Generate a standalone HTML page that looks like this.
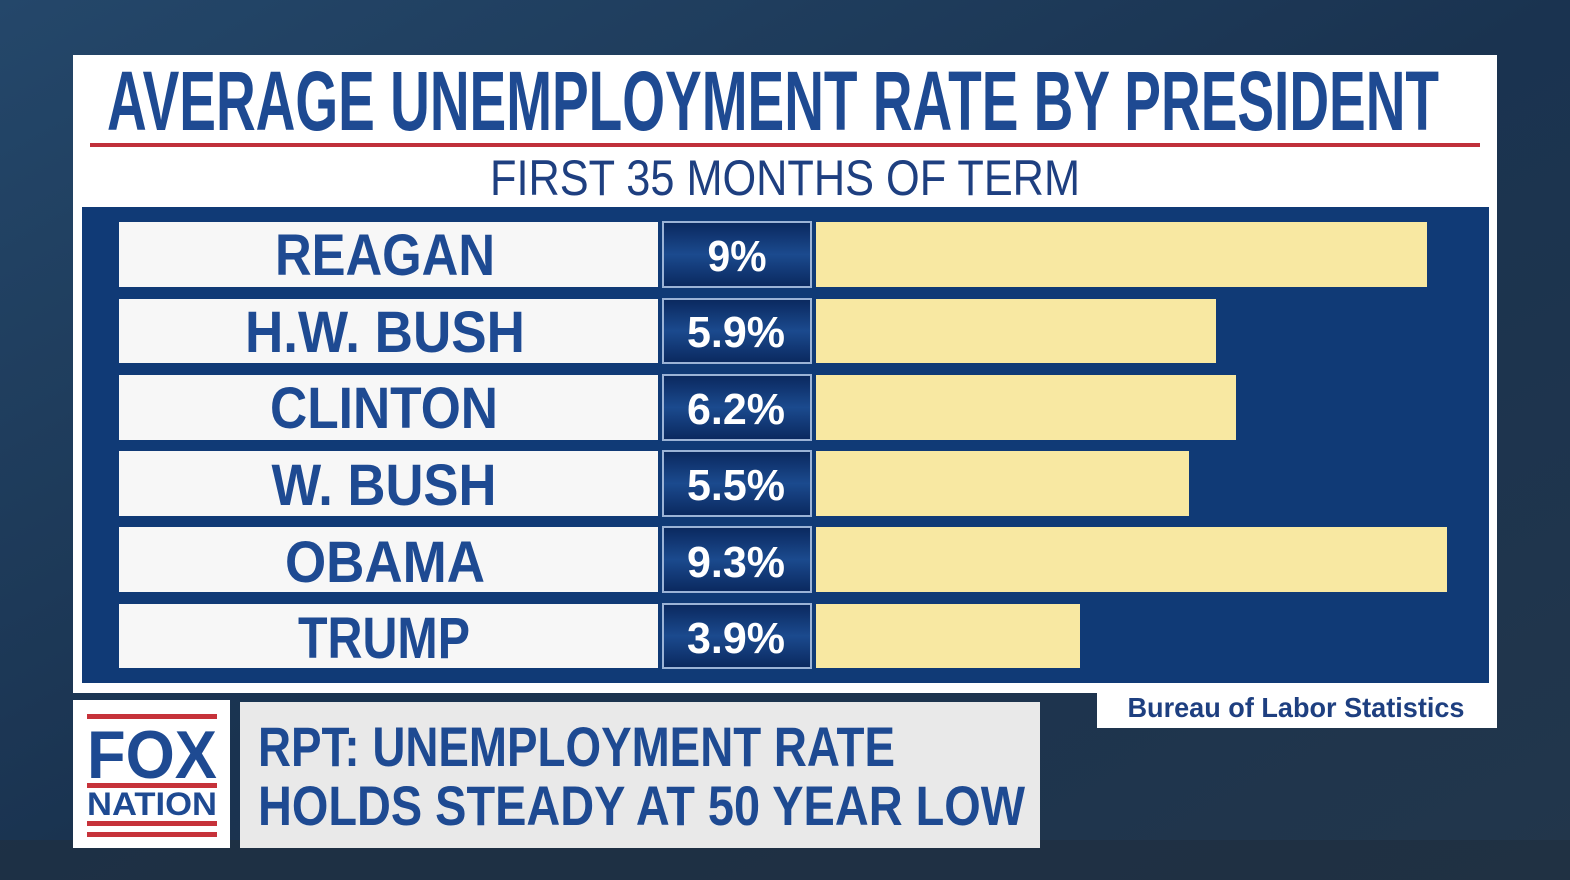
<!DOCTYPE html>
<html><head><meta charset="utf-8"><style>
html,body{margin:0;padding:0;width:1570px;height:880px;overflow:hidden;background:#1a2e45;}
svg{display:block}
text{font-family:"Liberation Sans",sans-serif;}
</style></head><body>
<svg width="1570" height="880" viewBox="0 0 1570 880">
<defs>
<linearGradient id="bg" x1="0" y1="0" x2="1" y2="1">
<stop offset="0" stop-color="#24476a"/><stop offset="0.5" stop-color="#1a3350"/><stop offset="1" stop-color="#22364b"/>
</linearGradient>
<linearGradient id="vb" x1="0" y1="0" x2="0" y2="1">
<stop offset="0" stop-color="#0a285e"/><stop offset="0.5" stop-color="#1b4a8e"/><stop offset="1" stop-color="#0a285e"/>
</linearGradient>
</defs>
<rect width="1570" height="880" fill="url(#bg)"/>
<rect x="0" y="840" width="1570" height="40" fill="#1f2f40" opacity="0.7"/>
<rect x="73" y="55" width="1424" height="638" fill="#ffffff"/>
<text x="773" y="130" text-anchor="middle" font-size="84" font-weight="bold" fill="#1e4a92" textLength="1332" lengthAdjust="spacingAndGlyphs">AVERAGE UNEMPLOYMENT RATE BY PRESIDENT</text>
<rect x="90" y="143" width="1390" height="4" fill="#c0303a"/>
<text x="785" y="195" text-anchor="middle" font-size="50" fill="#1e3f80" textLength="590" lengthAdjust="spacingAndGlyphs">FIRST 35 MONTHS OF TERM</text>
<rect x="82" y="207" width="1407" height="476" fill="#103a76"/>
<g>
<rect x="119" y="222" width="539" height="65" fill="#f7f7f7"/>
<rect x="663" y="222" width="148" height="65" fill="url(#vb)" stroke="#9bb3d6" stroke-width="2"/>
<rect x="816" y="222" width="611" height="65" fill="#f8e8a2"/>
<text x="385" y="275" text-anchor="middle" font-size="58" font-weight="bold" fill="#1e4a92" textLength="220" lengthAdjust="spacingAndGlyphs">REAGAN</text>
<text x="737" y="271" text-anchor="middle" font-size="44" font-weight="bold" fill="#fff" textLength="59" lengthAdjust="spacingAndGlyphs">9%</text>

<rect x="119" y="299" width="539" height="64" fill="#f7f7f7"/>
<rect x="663" y="299" width="148" height="64" fill="url(#vb)" stroke="#9bb3d6" stroke-width="2"/>
<rect x="816" y="299" width="400" height="64" fill="#f8e8a2"/>
<text x="385" y="352" text-anchor="middle" font-size="58" font-weight="bold" fill="#1e4a92" textLength="280" lengthAdjust="spacingAndGlyphs">H.W. BUSH</text>
<text x="736" y="347" text-anchor="middle" font-size="44" font-weight="bold" fill="#fff" textLength="98" lengthAdjust="spacingAndGlyphs">5.9%</text>

<rect x="119" y="375" width="539" height="65" fill="#f7f7f7"/>
<rect x="663" y="375" width="148" height="65" fill="url(#vb)" stroke="#9bb3d6" stroke-width="2"/>
<rect x="816" y="375" width="420" height="65" fill="#f8e8a2"/>
<text x="384" y="428" text-anchor="middle" font-size="58" font-weight="bold" fill="#1e4a92" textLength="228" lengthAdjust="spacingAndGlyphs">CLINTON</text>
<text x="736" y="424" text-anchor="middle" font-size="44" font-weight="bold" fill="#fff" textLength="98" lengthAdjust="spacingAndGlyphs">6.2%</text>

<rect x="119" y="451" width="539" height="65" fill="#f7f7f7"/>
<rect x="663" y="451" width="148" height="65" fill="url(#vb)" stroke="#9bb3d6" stroke-width="2"/>
<rect x="816" y="451" width="373" height="65" fill="#f8e8a2"/>
<text x="384" y="505" text-anchor="middle" font-size="58" font-weight="bold" fill="#1e4a92" textLength="225" lengthAdjust="spacingAndGlyphs">W. BUSH</text>
<text x="736" y="500" text-anchor="middle" font-size="44" font-weight="bold" fill="#fff" textLength="98" lengthAdjust="spacingAndGlyphs">5.5%</text>

<rect x="119" y="527" width="539" height="65" fill="#f7f7f7"/>
<rect x="663" y="527" width="148" height="65" fill="url(#vb)" stroke="#9bb3d6" stroke-width="2"/>
<rect x="816" y="527" width="631" height="65" fill="#f8e8a2"/>
<text x="385" y="582" text-anchor="middle" font-size="58" font-weight="bold" fill="#1e4a92" textLength="200" lengthAdjust="spacingAndGlyphs">OBAMA</text>
<text x="736" y="577" text-anchor="middle" font-size="44" font-weight="bold" fill="#fff" textLength="98" lengthAdjust="spacingAndGlyphs">9.3%</text>

<rect x="119" y="604" width="539" height="64" fill="#f7f7f7"/>
<rect x="663" y="604" width="148" height="64" fill="url(#vb)" stroke="#9bb3d6" stroke-width="2"/>
<rect x="816" y="604" width="264" height="64" fill="#f8e8a2"/>
<text x="384" y="658" text-anchor="middle" font-size="58" font-weight="bold" fill="#1e4a92" textLength="172" lengthAdjust="spacingAndGlyphs">TRUMP</text>
<text x="736" y="653" text-anchor="middle" font-size="44" font-weight="bold" fill="#fff" textLength="98" lengthAdjust="spacingAndGlyphs">3.9%</text>
</g>
<rect x="1097" y="690" width="400" height="38" fill="#ffffff"/>
<text x="1296" y="717" text-anchor="middle" font-size="28" font-weight="bold" fill="#1e3f80" textLength="337" lengthAdjust="spacingAndGlyphs">Bureau of Labor Statistics</text>
<rect x="73" y="700" width="157" height="148" fill="#ffffff"/>
<rect x="87" y="714" width="130" height="5" fill="#c6323a"/>
<text x="152" y="778" text-anchor="middle" font-size="68" font-weight="bold" fill="#1e4a92" textLength="130" lengthAdjust="spacingAndGlyphs">FOX</text>
<rect x="87" y="783" width="130" height="5" fill="#c6323a"/>
<text x="152" y="815" text-anchor="middle" font-size="32" font-weight="bold" fill="#1e4a92" textLength="130" lengthAdjust="spacingAndGlyphs">NATION</text>
<rect x="87" y="821" width="130" height="5" fill="#c6323a"/>
<rect x="87" y="832" width="130" height="5" fill="#c6323a"/>
<rect x="240" y="702" width="800" height="146" fill="#e9e9e9"/>
<text x="258" y="766" font-size="56" font-weight="bold" fill="#1e4a92" textLength="637" lengthAdjust="spacingAndGlyphs">RPT: UNEMPLOYMENT RATE</text>
<text x="258" y="825" font-size="56" font-weight="bold" fill="#1e4a92" textLength="767" lengthAdjust="spacingAndGlyphs">HOLDS STEADY AT 50 YEAR LOW</text>
</svg>
</body></html>
